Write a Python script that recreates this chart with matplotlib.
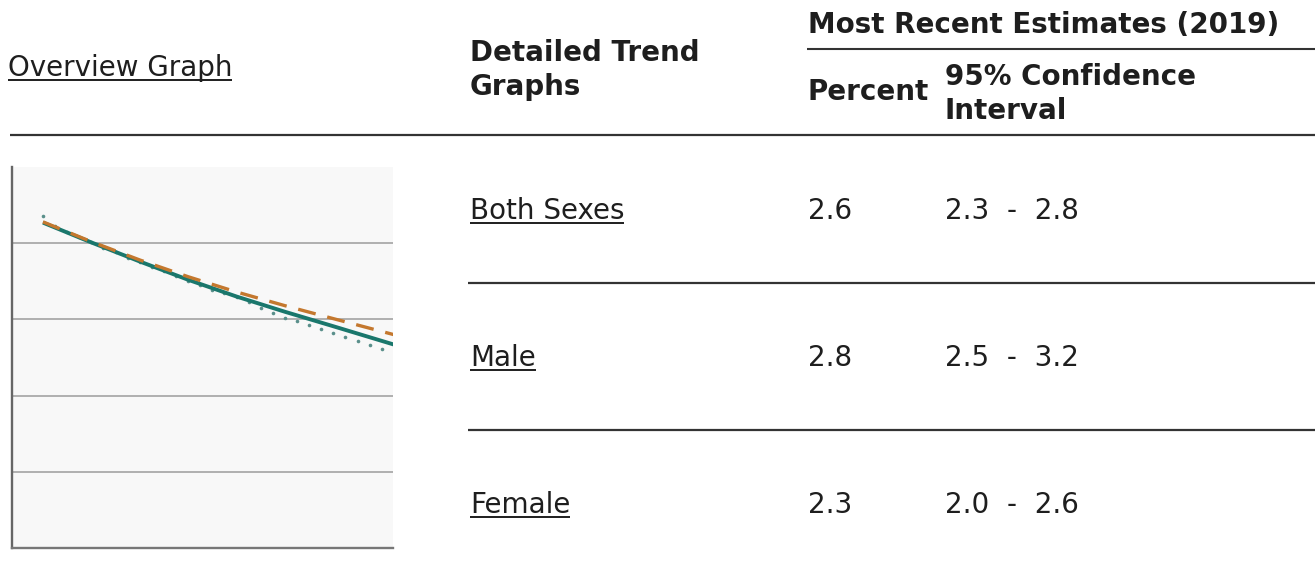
import matplotlib
matplotlib.use("Agg")
import matplotlib.pyplot as plt

# --- overview graph data ---
years = [1991, 1992, 1993, 1994, 1995, 1996, 1997, 1998, 1999, 2000,
         2001, 2002, 2003, 2004, 2005, 2006, 2007, 2008, 2009, 2010,
         2011, 2012, 2013, 2014, 2015, 2016, 2017, 2018, 2019]
observed = [4.36, 4.22, 4.15, 4.08, 4.01, 3.94, 3.88, 3.81, 3.75, 3.69,
            3.63, 3.57, 3.51, 3.45, 3.39, 3.34, 3.29, 3.23, 3.15, 3.09,
            3.02, 2.98, 2.92, 2.87, 2.82, 2.77, 2.71, 2.67, 2.61]
trend_years = [1991, 1995, 1999, 2003, 2007, 2011, 2015, 2020]
trend_solid = [4.27, 4.01, 3.76, 3.52, 3.30, 3.10, 2.91, 2.67]
trend_dashed = [4.28, 4.02, 3.78, 3.56, 3.36, 3.18, 3.01, 2.80]
grid_levels = [1, 2, 3, 4]

# --- table data ---
groups = ["Both Sexes", "Male", "Female"]
percent = ["2.6", "2.8", "2.3"]
ci_low = ["2.3", "2.5", "2.0"]
ci_high = ["2.8", "3.2", "2.6"]

W, H = 1315, 576
fig = plt.figure(figsize=(W / 100, H / 100), dpi=100)

# background axes in pixel coordinates for the table
bg = fig.add_axes([0, 0, 1, 1])
bg.set_xlim(0, W)
bg.set_ylim(H, 0)
bg.axis("off")

TXT = "#1e1e1e"
FS = 20
underlined = []


def put(x, y_center, s, bold=False, underline=False):
    base = y_center + 10
    t = bg.text(x, base, s, fontsize=FS, color=TXT, va="baseline", ha="left",
                fontweight="bold" if bold else "normal", family="DejaVu Sans")
    if underline:
        underlined.append((t, base + 4))
    return t


# header
put(8, 66, "Overview Graph", underline=True)
put(470, 51, "Detailed Trend", bold=True)
put(470, 85, "Graphs", bold=True)
put(808, 23, "Most Recent Estimates (2019)", bold=True)
put(808, 90, "Percent", bold=True)
put(945, 75, "95% Confidence", bold=True)
put(945, 109, "Interval", bold=True)

# rules
bg.plot([807, W], [49, 49], color="#333333", lw=1.5, solid_capstyle="butt")
bg.plot([10, W], [135, 135], color="#333333", lw=1.6, solid_capstyle="butt")

row_centers = [209, 356, 503]
for i, g in enumerate(groups):
    yc = row_centers[i]
    put(470, yc, g, underline=True)
    put(808, yc, percent[i])
    put(945, yc, f"{ci_low[i]}  -  {ci_high[i]}")
for yl in [283, 430]:
    bg.plot([468, W], [yl, yl], color="#333333", lw=1.6, solid_capstyle="butt")

fig.canvas.draw()
for t, yu in underlined:
    bb = t.get_window_extent()
    bg.plot([bb.x0, bb.x1], [yu, yu], color=TXT, lw=1.4, solid_capstyle="butt")

# --- overview graph ---
left, right, top, bottom = 12, 393, 167, 548
ax = fig.add_axes([left / W, 1 - bottom / H, (right - left) / W, (bottom - top) / H])
ax.set_facecolor("#f8f8f8")
ax.set_xlim(1988.44, 2019.93)
ax.set_ylim(0, 5)
for g in grid_levels:
    ax.axhline(g, color="#b0b0b0", lw=1.4, zorder=1)
ax.plot(years, observed, linestyle="none", marker="o", markersize=2.6,
        color="#5a8f8b", markeredgewidth=0, zorder=2)
ax.plot(trend_years, trend_solid, color="#1a776c", lw=2.8, zorder=3,
        solid_capstyle="butt")
ax.plot(trend_years, trend_dashed, color="#c4782e", lw=2.4, zorder=4,
        dashes=(13 / 2.4, 8.6 / 2.4))
ax.set_xticks([])
ax.set_yticks([])
for s in ["top", "right"]:
    ax.spines[s].set_visible(False)
ax.spines["left"].set_color("#666666")
ax.spines["left"].set_linewidth(1.7)
ax.spines["bottom"].set_color("#777777")
ax.spines["bottom"].set_linewidth(1.7)

fig.savefig("out.png", dpi=100)
